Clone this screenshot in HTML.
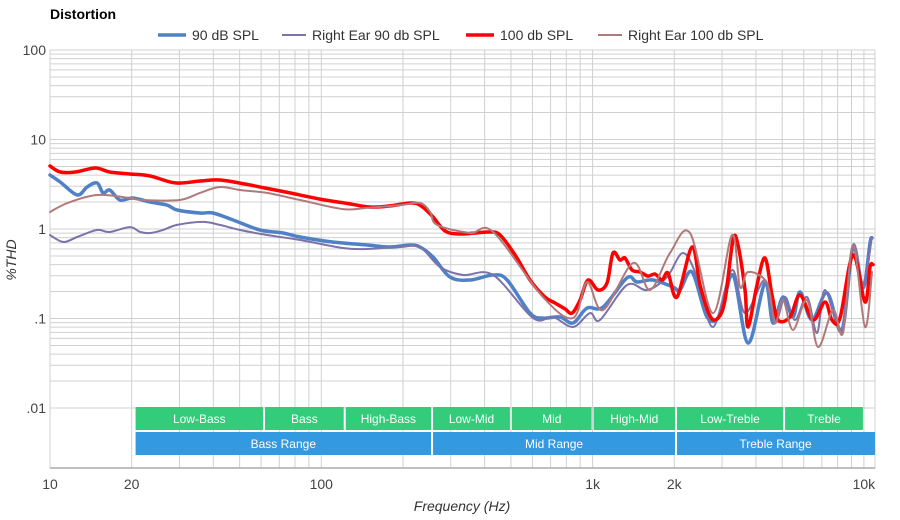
<!DOCTYPE html>
<html><head><meta charset="utf-8"><style>
body{margin:0;background:#fff;}
svg{display:block;font-family:"Liberation Sans",sans-serif;}
</style></head><body>
<svg id="chart" width="900" height="520" viewBox="0 0 900 520" xmlns="http://www.w3.org/2000/svg">
<text x="50" y="19" font-size="14" font-weight="bold" fill="#000">Distortion</text>
<g id="grid"></g>
<g id="bands"></g>
<g id="series"></g>
<g id="axes"></g>
<g id="legend"></g>
<text transform="translate(16,260) rotate(-90)" text-anchor="middle" font-size="14" font-style="italic" fill="#333">%THD</text>
<text x="462" y="511" text-anchor="middle" font-size="14" font-style="italic" fill="#333">Frequency (Hz)</text>
</svg>
<script>
const yTickVals=[100,10,1,0.1,0.01];
const yTickLabels=["100","10","1",".1",".01"];
const xTickVals=[10,20,100,1000,2000,10000];
const xTickLabels=["10","20","100","1k","2k","10k"];
const seriesNames=["90 dB SPL","Right Ear 90 db SPL","100 db SPL","Right Ear 100 db SPL"];
const bandNames=["Low-Bass","Bass","High-Bass","Low-Mid","Mid","High-Mid","Low-Treble","Treble"];
const bandEdges=[20.5,61.5,122,256,500,1000,2030,5080,10000];
const rangeNames=["Bass Range","Mid Range","Treble Range"];
const rangeEdges=[20.5,256,2030,11000];

const f90=[10,10.9,12.6,13.7,14.9,15.7,16.6,18.1,20.2,23.4,27.0,29.4,35.7,39.9,47.3,59.4,72.3,83.5,110,147,179,212,231,258,298,353,430,484,588,656,758,847,954,1092,1339,1458,1670,1979,2100,2325,2641,2949,3293,3741,4319,4624,5034,5480,5815,6439,7313,8303,9118,9924,10532,10713];
const v90=[4.01,3.35,2.40,2.95,3.27,2.53,2.73,2.11,2.22,2.00,1.85,1.63,1.51,1.51,1.26,0.975,0.902,0.814,0.716,0.663,0.629,0.663,0.629,0.487,0.291,0.269,0.306,0.269,0.115,0.101,0.104,0.0891,0.131,0.134,0.284,0.256,0.269,0.225,0.208,0.331,0.104,0.109,0.306,0.0532,0.249,0.0891,0.174,0.104,0.198,0.0962,0.193,0.0744,0.629,0.219,0.698,0.793];
const fR90=[10,11.2,12.6,14.9,16.6,19.7,21.5,23.4,26.1,29.4,36.6,42.3,50.2,63.1,83.5,120,147,195,231,274,333,430,603,714,847,978,1065,1339,1587,1881,2154,2425,2779,3265,3646,4319,4703,5119,5573,6171,6718,7190,8303,9118,9924,10713];
const vR90=[0.857,0.716,0.814,0.975,0.926,1.05,0.926,0.902,0.975,1.11,1.20,1.11,0.975,0.857,0.754,0.613,0.598,0.629,0.629,0.376,0.306,0.306,0.101,0.104,0.0804,0.115,0.0962,0.237,0.208,0.291,0.539,0.291,0.0804,0.348,0.115,0.269,0.0914,0.174,0.0962,0.174,0.0689,0.208,0.0707,0.663,0.249,0.814];
const f100=[10,10.9,12.4,14.7,16.6,19.7,23.4,28.9,35.7,42.3,52.3,62.0,76.7,98.9,122,151,179,212,231,256,286,324,369,419,456,518,588,667,727,791,840,899,962,1047,1130,1189,1262,1316,1397,1495,1600,1698,1803,1897,2047,2325,2489,2708,2899,3076,3293,3436,3646,3741,4036,4319,4584,4824,5343,5815,6494,7190,7627,8162,9118,10095,10532,10805];
const v100=[5.06,4.33,4.33,4.80,4.33,4.12,3.91,3.27,3.44,3.53,3.18,2.87,2.53,2.16,1.95,1.76,1.81,1.95,1.85,1.40,0.95,0.879,0.902,0.926,0.857,0.512,0.269,0.174,0.149,0.128,0.115,0.161,0.269,0.208,0.249,0.539,0.45,0.474,0.348,0.331,0.298,0.314,0.269,0.322,0.174,0.629,0.237,0.107,0.101,0.161,0.754,0.663,0.208,0.0804,0.237,0.474,0.183,0.0962,0.104,0.183,0.0962,0.153,0.0962,0.101,0.512,0.153,0.376,0.40];
const fR100=[10,11.6,14.9,19.7,22.0,30.1,35.7,42.3,50.2,63.1,83.5,120,147,195,231,252,267,353,430,656,847,954,1092,1409,1628,1929,2286,2779,3265,3494,3741,4394,4703,5034,5480,6171,6776,7692,8374,9118,10095,10713];
const vR100=[1.55,1.95,2.40,2.22,2.11,2.11,2.53,2.95,2.73,2.53,2.11,1.67,1.72,1.85,1.95,1.55,1.11,0.902,0.926,0.174,0.101,0.256,0.124,0.417,0.208,0.539,0.902,0.115,0.857,0.225,0.331,0.249,0.0891,0.161,0.0744,0.161,0.048,0.124,0.0689,0.663,0.0804,0.331];

const X0=50,X1=875,Y0=50,YB=468;
const xDec=271.3, yDec=89.5;
function xs(f){return X0+(Math.log10(f)-1)*xDec;}
function ys(v){return Y0+(2-Math.log10(v))*yDec;}
const NS="http://www.w3.org/2000/svg";
function mk(tag,attrs,parent){const e=document.createElementNS(NS,tag);for(const k in attrs)e.setAttribute(k,attrs[k]);parent.appendChild(e);return e;}

const grid=document.getElementById('grid');
for(let d=-2;d<2;d++){for(let m=1;m<10;m++){const v=m*Math.pow(10,d);const y=ys(v);
 const l=mk('line',{x1:X0,x2:X1,y1:y,y2:y,stroke:'#d0d0d0','stroke-width':1},grid);
 
 }}
{const y=ys(100);const l=mk('line',{x1:X0,x2:X1,y1:y,y2:y,stroke:'#d0d0d0','stroke-width':1},grid);
 
 }
for(let d=1;d<5;d++){for(let m=1;m<10;m++){const f=m*Math.pow(10,d);const x=xs(f);if(x>X1+0.5)continue;
 const l=mk('line',{x1:x,x2:x,y1:Y0,y2:YB,stroke:'#d0d0d0','stroke-width':1},grid);
 
 }}
{const l=mk('line',{x1:X1,x2:X1,y1:Y0,y2:YB,stroke:'#d0d0d0','stroke-width':1},grid);
 
 }

const bands=document.getElementById('bands');
for(let i=0;i<bandNames.length;i++){const a=xs(bandEdges[i])+1,b=xs(bandEdges[i+1])-1;
 const r=mk('rect',{x:a,y:407,width:b-a,height:23,fill:'#33cc7a'},bands);
 
 
 const t=mk('text',{x:(a+b)/2,y:423,'text-anchor':'middle','font-size':12,fill:'#fff'},bands);t.textContent=bandNames[i];
 
 }
for(let i=0;i<rangeNames.length;i++){const a=xs(rangeEdges[i])+1,b=Math.min(X1,xs(rangeEdges[i+1]))-1;
 const r=mk('rect',{x:a,y:432,width:b-a+(i==2?1:0),height:23,fill:'#3399e0'},bands);
 
 
 const t=mk('text',{x:(a+b)/2,y:448,'text-anchor':'middle','font-size':12,fill:'#fff'},bands);t.textContent=rangeNames[i];
 
 }

const sg=document.getElementById('series');
const defs=[[f90,v90,'#4f81c7',3.5,'series-90db'],[fR90,vR90,'#7b73aa',2,'series-right-ear-90db'],[f100,v100,'#ff0000',3.5,'series-100db'],[fR100,vR100,'#b07a7a',2,'series-right-ear-100db']];
defs.forEach(([fa,va,c,w,n])=>{
 const pts=fa.map((f,i)=>[xs(f),ys(va[i])]);
 let d='M'+pts[0][0].toFixed(1)+','+pts[0][1].toFixed(1);
 for(let i=0;i<pts.length-1;i++){const p0=pts[Math.max(0,i-1)],p1=pts[i],p2=pts[i+1],p3=pts[Math.min(pts.length-1,i+2)];
  const c1=[p1[0]+(p2[0]-p0[0])/6,p1[1]+(p2[1]-p0[1])/6],c2=[p2[0]-(p3[0]-p1[0])/6,p2[1]-(p3[1]-p1[1])/6];
  d+=' C'+c1[0].toFixed(1)+','+c1[1].toFixed(1)+' '+c2[0].toFixed(1)+','+c2[1].toFixed(1)+' '+p2[0].toFixed(1)+','+p2[1].toFixed(1);}
 const p=mk('path',{d:d,fill:'none',stroke:c,'stroke-width':w,'stroke-linejoin':'round','stroke-linecap':'round'},sg);
 
 
});

const ax=document.getElementById('axes');
{const l=mk('line',{x1:X0,x2:X1,y1:YB,y2:YB,stroke:'#aaa','stroke-width':1.5},ax);
 
 }
yTickVals.forEach((v,i)=>{const t=mk('text',{x:46,y:ys(v)+5,'text-anchor':'end','font-size':14,fill:'#444'},ax);t.textContent=yTickLabels[i];
 
 });
xTickVals.forEach((f,i)=>{const t=mk('text',{x:xs(f),y:489,'text-anchor':'middle','font-size':14,fill:'#444'},ax);t.textContent=xTickLabels[i];
 
 });

const lg=document.getElementById('legend');
const lgX=[158,282,466,598], lgW=[28,24,28,24];
defs.forEach((s,i)=>{const g=mk('g',{},lg);
 
 
 mk('line',{x1:lgX[i],x2:lgX[i]+lgW[i],y1:35,y2:35,stroke:s[2],'stroke-width':s[3]},g);
 const t=mk('text',{x:lgX[i]+lgW[i]+6,y:40,'font-size':14,fill:'#333'},g);t.textContent=seriesNames[i];});
</script>
</body></html>
